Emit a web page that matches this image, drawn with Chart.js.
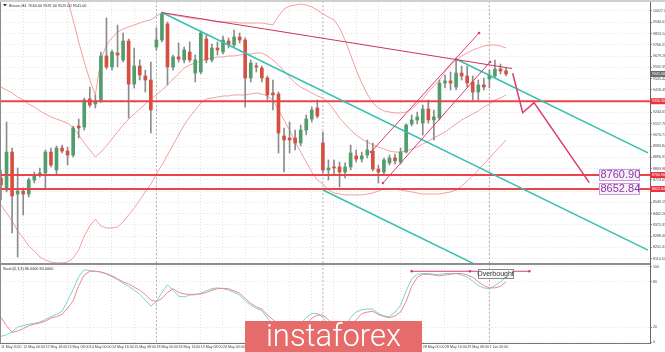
<!DOCTYPE html>
<html>
<head>
<meta charset="utf-8">
<title>Bitcoin H4</title>
<script src="https://cdn.jsdelivr.net/npm/chart.js@4.4.1/dist/chart.umd.min.js"></script>
<style>
  html, body { margin: 0; padding: 0; background: #fff; }
  body { width: 665px; height: 352px; position: relative; overflow: hidden; }
  canvas { position: absolute; left: 0; }
  #main { top: 0; }
  #osc { top: 264px; }
  #topbar { position: absolute; left: 0; top: 0; width: 665px; height: 2px; background: #cfcfcf; }
  #sep { position: absolute; left: 0; top: 263px; width: 650px; height: 2px; background: #8e8e8e; }
  #logo { position: absolute; left: 245px; top: 321px; width: 177px; height: 31px; background: #e66b6b;
          color: #fff; font: 300 31px Roboto, sans-serif; line-height: 29px; text-align: center; }
</style>
</head>
<body>
<canvas id="main" width="665" height="264"></canvas>
<canvas id="osc" width="665" height="88"></canvas>
<div id="topbar"></div>
<div id="sep"></div>
<div id="logo">instaforex</div>
<script>
// H4 bars, 11 May 2020 08:00 .. 1 Jun 2020 12:00 (bar index = position)
const opens = [8738,8645,8938,8614,8637,8614,8722,8761,8776,8938,
  8800,8969,8946,8915,9139,9131,9348,9309,9340,9680,
  9595,9703,9649,9795,9463,9602,9525,9494,9749,9803,
  9927,9595,9672,9649,9710,9548,9556,9811,9649,9741,
  9710,9795,9765,9826,9803,9510,9602,9587,9510,9394,
  9386,9062,9047,9047,9008,9108,9193,9278,9008,8800,
  8823,8823,8784,8823,8908,8884,8915,8946,8807,8784,
  8854,8892,8861,8938,9155,9186,9162,9270,9186,9201,
  9471,9487,9440,9548,9525,9479,9402,9456,9502,9525,
  9579,9564]
const highs = [8800,9170,8969,8815,8661,8738,8784,8815,8954,8969,
  8985,8992,8977,9139,9193,9355,9440,9378,9710,9973,
  9726,9919,9857,9811,9741,9649,9571,9633,9896,10019,
  9942,9687,9780,9749,9788,9687,9873,9842,9772,9788,
  9834,9819,9880,9857,9819,9649,9626,9602,9525,9494,
  9402,9124,9170,9108,9147,9224,9286,9340,9093,8877,
  8877,8861,8854,8992,8954,8938,9031,9008,8838,8892,
  8915,8923,8969,9155,9224,9247,9301,9340,9263,9494,
  9533,9556,9664,9602,9602,9525,9494,9510,9572,9649,
  9618,9587]
const lows = [8568,8630,8313,8128,8452,8591,8699,8745,8661,8823,
  8761,8931,8838,8900,9047,9108,9286,9278,9324,9579,
  9571,9595,9633,9201,9432,9494,9402,9085,9726,9788,
  9456,9571,9633,9626,9633,9479,9541,9626,9633,9687,
  9695,9741,9749,9780,9286,9479,9556,9479,9340,9263,
  8931,8784,8931,8954,8985,9070,9170,9201,8776,8722,
  8761,8668,8738,8800,8861,8861,8892,8792,8699,8769,
  8838,8846,8846,8931,9139,9155,9070,9162,9031,9186,
  9433,9417,9417,9494,9440,9340,9340,9417,9433,9510,
  9541,9525]
const closes = [8684,8938,8599,8637,8614,8722,8761,8776,8938,8838,
  8969,8946,8915,9124,9124,9340,9301,9332,9680,9595,
  9710,9687,9795,9463,9602,9533,9494,9263,9803,10004,
  9595,9672,9656,9726,9649,9649,9857,9649,9741,9726,
  9803,9765,9826,9803,9510,9626,9595,9510,9379,9379,
  9085,9031,9031,9008,9108,9193,9263,9216,8800,8815,
  8815,8784,8823,8931,8884,8908,8954,8807,8784,8877,
  8892,8869,8938,9147,9186,9209,9270,9186,9209,9471,
  9487,9471,9548,9525,9471,9402,9456,9440,9533,9579,
  9564,9541]

// Bollinger bands
const bbUpper = [10351,10367,10382,10398,10405,10405,10398,10382,10359,10320,
  10266,10189,10112,9958,9788,9633,9494,9379,9649,9765,
  9819,9865,9888,9904,9919,9934,9950,9958,9988,10012,
  10004,9996,9988,9981,9973,9965,9965,9958,9950,9942,
  9942,9942,9942,9934,9934,9934,9934,9934,9927,9919,
  9988,10042,10066,10073,10081,10073,10058,10035,10004,9981,
  9958,9896,9803,9687,9572,9471,9386,9317,9278,9255,
  9247,9240,9240,9247,9270,9309,9348,9402,9448,9494,
  9556,9610,9649,9680,9703,9726,9741,9757,9765,9765,
  9757,9741]
const bbMiddle = [9440,9417,9394,9363,9340,9309,9286,9255,9232,9209,
  9193,9178,9162,9124,9070,9008,8954,8900,8938,8985,
  9039,9093,9147,9193,9232,9270,9309,9348,9379,9417,
  9456,9502,9541,9587,9610,9626,9641,9656,9664,9672,
  9672,9680,9680,9687,9695,9695,9703,9703,9680,9649,
  9610,9564,9517,9471,9440,9417,9394,9371,9355,9317,
  9263,9201,9155,9108,9070,9039,9016,8992,8977,8962,
  8946,8938,8938,8946,8962,8977,9000,9023,9047,9070,
  9093,9124,9155,9186,9209,9232,9255,9286,9309,9340,
  9355,9379]
const bbLower = [8529,8468,8406,8329,8275,8213,8174,8128,8105,8089,
  8082,8082,8089,8120,8182,8290,8367,8421,8367,8352,
  8352,8360,8398,8452,8506,8568,8630,8691,8769,8838,
  8915,8993,9070,9147,9209,9263,9317,9348,9355,9363,
  9371,9371,9379,9379,9379,9386,9394,9386,9371,9340,
  9263,9186,9108,9016,8938,8861,8784,8722,8691,8645,
  8622,8614,8607,8607,8607,8607,8614,8622,8637,8653,
  8653,8653,8645,8637,8630,8622,8614,8614,8614,8614,
  8622,8630,8645,8676,8715,8753,8800,8846,8892,8938,
  8985,9031]

// Stochastic %K / %D
const stochK = [8,10,14,20,22,24,25,27,30,34,
  37,41,55,70,87,96,95,94,93,90,
  87,83,78,74,69,63.5,56,48,54,66,
  76,69,61,60,62.5,63,65,68,71,72,
  71,69,66,62.5,55,49,45,42,32,24,
  16,11,10,14,24,33,38,38,33,24,
  14,10,18,33,40,43,44,44,38,35,
  34,40,49,68,84,90,91,91,90,90,
  91,91,91,89,86,81,75,72,71,75,
  80,86]
const stochD = [33,22,13,15,18,22,24,25.5,28,32,
  34,37,45,55,75,89,94,94,93,91,
  88,84,80,77,73,69,63,56,54,58,
  66,71,66,64,63.5,63.5,64,66,69,71,
  71.5,71,68,65,58,51.5,47,44,36,30,
  24,17,13,12,16,23,32,36,36,30,
  22,15,14,21,30,38,40,41,37,34,
  32.5,35,40,54,74,86,90,90,89,88,
  89,90,91,91,89,86,80,75,72,72,
  74,80]

// horizontal levels and drawn objects (bar index, price)
const levels = [9330.30, 8760.90, 8652.84]
const boxLevels = [8760.90, 8652.84]
const resistance = [[29, 10015], [92.07, 9583]]
const tealMid = [[29.19, 10011.5], [116.58, 8180.4]]
const tealUpper = [[82.16, 9652.6], [116.58, 8931.5]]
const tealLower = [[58.02, 8645.1], [95, 7870.4]]
const riseLow = [[68.83, 8699.1], [88.11, 9633.3]]
const riseHigh = [[66.67, 8938.5], [86.13, 9857.1]]
const forecast = [[92.2, 9546], [94.0, 9241.9], [96.04, 9319.1], [106.0, 8701.5]]
const overbought = [[74, 94], [84.5, 94], [95.2, 94]]
const overboughtLabel = [89.1, 90.4]
const boxAt = 107.75

// axes
const priceTicks = [10027.00, 9940.07, 9853.14, 9766.21, 9679.28, 9592.35, 9505.42, 9418.49,
  9331.56, 9244.63, 9157.70, 9070.77, 8983.84, 8896.91, 8809.98, 8723.05, 8636.12, 8549.19,
  8462.26, 8375.33, 8288.40, 8201.47, 8114.54]
const stochTicks = [0, 20, 80, 100]
const timeTicks = [0,4,8,12,16,20,24,28,32,36,40,44,48,52,56,60,64,68,72,76,80,84,88]
const timeLabels = ['11 May 2020','12 May 00:00','12 May 16:00','13 May 08:00','14 May 00:00',
  '14 May 16:00','15 May 08:00','18 May 00:00','18 May 16:00','19 May 08:00','20 May 00:00',
  '20 May 16:00','21 May 08:00','22 May 00:00','22 May 16:00','25 May 08:00','26 May 00:00',
  '26 May 16:00','27 May 08:00','28 May 00:00','28 May 16:00','29 May 08:00','1 Jun 00:00']
const weekStarts = [28, 58, 88]

const X_MIN = -0.18, X_MAX = 116.94
const UP = '#529d6d', DOWN = '#d6503f', WICK = '#8c8c8c'
const BAND = '#f2a0a0', LEVEL = '#e9434b', TEAL = '#35c0b0', ROSE = '#da3c71'
const AXIS_FONT = {size: 3.6, family: 'Liberation Sans'}

const bars = opens.map((o, i) => i)
const pts = a => a.map(([x, y]) => ({x, y}))
const series = a => a.map((v, i) => ({x: i, y: v}))
function line(data, color, width, extra){
    return Object.assign({type: 'line', data, borderColor: color, borderWidth: width,
        pointRadius: 0, fill: false, tension: 0}, extra || {})
}
const dots = c => ({pointRadius: 1.3, pointBackgroundColor: c, pointBorderWidth: 0})

const mainDecor = {
    id: 'mainDecor',
    afterDraw(chart){
        const {ctx, chartArea: a, scales: {x, y}} = chart
        const n = closes.length - 1
        ctx.save()
        ctx.fillStyle = '#8a8a8a'
        ctx.fillRect(a.left, a.top, 1, a.bottom - a.top)
        // header
        ctx.fillStyle = '#333'
        ctx.beginPath(); ctx.moveTo(3, 4); ctx.lineTo(7, 4); ctx.lineTo(5, 6.5); ctx.fill()
        ctx.font = '3.8px "Liberation Sans"'
        ctx.textBaseline = 'middle'
        ctx.fillText('Bitcoin,H4  ' + [opens[n], highs[n], lows[n], closes[n]].map(v => v.toFixed(2)).join(' '), 9, 5.5)
        // level captions
        boxLevels.forEach(v => {
            const py = Math.round(y.getPixelForValue(v)), px = Math.round(x.getPixelForValue(boxAt))
            ctx.fillStyle = '#f7effa'
            ctx.fillRect(px, py - 6, 40, 11)
            ctx.strokeStyle = '#c99bd9'; ctx.lineWidth = 1
            ctx.strokeRect(px + 0.5, py - 5.5, 40, 11)
            ctx.fillStyle = '#8a3aa6'
            ctx.font = '11px "Liberation Sans"'
            ctx.textAlign = 'left'
            ctx.fillText(v.toFixed(2), px + 1.5, py)
        })
        // price tags on the axis
        const tag = (v, bg) => {
            const py = y.getPixelForValue(v)
            ctx.fillStyle = bg
            ctx.fillRect(a.right, py - 3, 15, 6)
            ctx.fillStyle = '#fff'
            ctx.font = '3.6px "Liberation Sans"'
            ctx.textAlign = 'left'
            ctx.fillText(v.toFixed(2), a.right + 2, py)
        }
        levels.forEach(v => tag(v, '#e8343f'))
        tag(closes[n], '#6a6a6a')
        ctx.restore()
    }
}

new Chart(document.getElementById('main'), {
    type: 'bar',
    data: {datasets: [
        line(pts(forecast), ROSE, 1.5, {order: 0}),
        line(pts(resistance), '#c9335f', 1, {order: 0}),
        line(pts(riseHigh), ROSE, 1, Object.assign({order: 0}, dots(ROSE))),
        line(pts(riseLow), ROSE, 1, Object.assign({order: 0}, dots(ROSE))),
        line(pts(tealMid), TEAL, 1.5, {order: 0}),
        line(pts(tealUpper), TEAL, 1.5, {order: 0}),
        line(pts(tealLower), TEAL, 1.5, {order: 0}),
        ...levels.map(v => line([{x: X_MIN, y: v}, {x: X_MAX, y: v}], LEVEL, 2, {order: 1})),
        {type: 'bar', data: bars.map(i => ({x: i, y: [opens[i], closes[i]]})),
         backgroundColor: bars.map(i => closes[i] >= opens[i] ? UP : DOWN),
         barThickness: 3, minBarLength: 1, grouped: false, order: 5},
        {type: 'bar', data: bars.map(i => ({x: i, y: [lows[i], highs[i]]})),
         backgroundColor: WICK, barThickness: 1, grouped: false, order: 6},
        line(series(bbUpper), BAND, 1, {order: 8}),
        line(series(bbMiddle), BAND, 1, {order: 8}),
        line(series(bbLower), BAND, 1, {order: 8}),
        ...weekStarts.map(w => line([{x: w, y: 7000}, {x: w, y: 11000}], '#b2b2b2', 1, {order: 9, borderDash: [2, 2]}))
    ]},
    options: {
        responsive: false, animation: false,
        layout: {padding: 0, autoPadding: false},
        plugins: {legend: {display: false}, tooltip: {enabled: false}},
        scales: {
            x: {type: 'linear', min: X_MIN, max: X_MAX, offset: false,
                afterBuildTicks: s => { s.ticks = timeTicks.map(v => ({value: v})) },
                ticks: {display: false},
                grid: {color: '#e4e4e4', drawTicks: false, offset: false},
                border: {display: false, dash: [1, 2]},
                afterFit: s => { s.height = 1; s.paddingLeft = 0; s.paddingRight = 0 }},
            y: {position: 'right', min: 8081.5, max: 10111.9,
                afterBuildTicks: s => { s.ticks = priceTicks.map(v => ({value: v})) },
                ticks: {font: AXIS_FONT, color: '#444', padding: 1, callback: v => v.toFixed(2)},
                grid: {color: '#e4e4e4', tickLength: 2, tickColor: '#888'},
                border: {display: true, color: '#666', dash: [1, 2]},
                afterFit: s => { s.width = 15; s.paddingTop = 0; s.paddingBottom = 0 }}
        }
    },
    plugins: [mainDecor]
})

const oscDecor = {
    id: 'oscDecor',
    afterDraw(chart){
        const {ctx, chartArea: a, scales: {x, y}} = chart
        const n = stochK.length - 1
        ctx.save()
        ctx.fillStyle = '#8a8a8a'
        ctx.fillRect(a.left, a.top, 1, a.bottom - a.top)
        ctx.fillStyle = '#333'
        ctx.font = '3.8px "Liberation Sans"'
        ctx.textBaseline = 'middle'
        ctx.fillText('Stoch(5,3,3) ' + stochK[n].toFixed(4) + ' ' + stochD[n].toFixed(4), 3, 4.5)
        const cx = x.getPixelForValue(overboughtLabel[0]), cy = y.getPixelForValue(overboughtLabel[1])
        ctx.fillStyle = '#fafafa'
        ctx.fillRect(cx - 17.5, cy - 4.5, 35, 9)
        ctx.strokeStyle = '#8a8a8a'; ctx.lineWidth = 1
        ctx.strokeRect(Math.round(cx - 17.5) + 0.5, Math.round(cy - 4.5) + 0.5, 35, 9)
        ctx.fillStyle = '#333'
        ctx.font = '7px "Liberation Sans"'
        ctx.textAlign = 'center'
        ctx.fillText('Overbought', cx, cy + 0.5)
        ctx.restore()
    }
}

new Chart(document.getElementById('osc'), {
    type: 'line',
    data: {datasets: [
        line(pts(overbought), ROSE, 1, Object.assign({order: 0}, dots(ROSE))),
        line(series(stochD), '#ef8787', 1, {order: 1}),
        line(series(stochK), '#7ad4cb', 1, {order: 2}),
        ...weekStarts.map(w => line([{x: w, y: -10}, {x: w, y: 120}], '#b2b2b2', 1, {order: 9, borderDash: [2, 2]}))
    ]},
    options: {
        responsive: false, animation: false,
        layout: {padding: 0, autoPadding: false},
        plugins: {legend: {display: false}, tooltip: {enabled: false}},
        scales: {
            x: {type: 'linear', min: X_MIN, max: X_MAX, offset: false,
                afterBuildTicks: s => { s.ticks = timeTicks.map(v => ({value: v})) },
                ticks: {font: AXIS_FONT, color: '#444', padding: 0, align: 'start', maxRotation: 0, autoSkip: false,
                        callback: v => timeLabels[timeTicks.indexOf(v)]},
                grid: {color: '#e4e4e4', tickLength: 2, tickColor: 'rgba(0,0,0,0)'},
                border: {display: true, color: '#777', dash: [1, 2]},
                afterFit: s => { s.height = 9; s.paddingLeft = 0; s.paddingRight = 0 }},
            y: {position: 'right', min: -0.9, max: 103.6,
                afterBuildTicks: s => { s.ticks = stochTicks.map(v => ({value: v})) },
                ticks: {font: AXIS_FONT, color: '#444', padding: 1},
                grid: {color: '#e4e4e4', tickLength: 2, tickColor: '#888'},
                border: {display: true, color: '#666', dash: [1, 2]},
                afterFit: s => { s.width = 15; s.paddingTop = 0; s.paddingBottom = 0 }}
        }
    },
    plugins: [oscDecor]
})
</script>
</body>
</html>
